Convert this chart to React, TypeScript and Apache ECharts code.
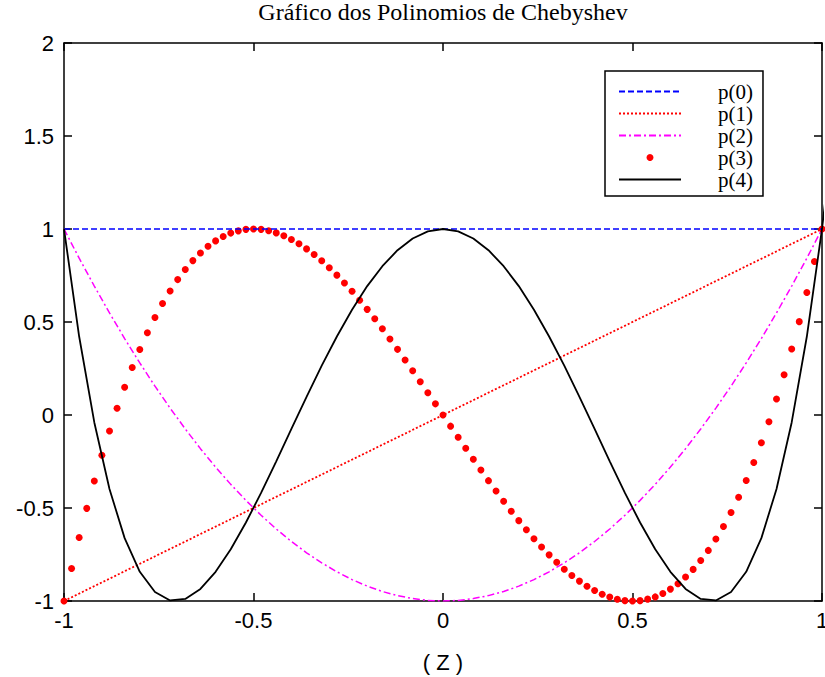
import React, { useEffect, useRef } from "react";
import * as echarts from "echarts";

const TITLE = "Gráfico dos Polinomios de Chebyshev";
const X_NAME = "( Z )";
const SERIES_NAMES = ["p(0)", "p(1)", "p(2)", "p(3)", "p(4)"];
const X_TICKS = [-1, -0.5, 0, 0.5, 1];
const Y_TICKS = [-1, -0.5, 0, 0.5, 1, 1.5, 2];

// p(0) and p(1) are straight lines
const zLine = [-1, 1];
const p0 = [1, 1];
const p1 = [-1, 1];

// fine grid (dotted p(3))
const zFine = [
  -1, -0.98, -0.96, -0.94, -0.92, -0.9, -0.88, -0.86, -0.84, -0.82,
  -0.8, -0.78, -0.76, -0.74, -0.72, -0.7, -0.68, -0.66, -0.64, -0.62,
  -0.6, -0.58, -0.56, -0.54, -0.52, -0.5, -0.48, -0.46, -0.44, -0.42,
  -0.4, -0.38, -0.36, -0.34, -0.32, -0.3, -0.28, -0.26, -0.24, -0.22,
  -0.2, -0.18, -0.16, -0.14, -0.12, -0.1, -0.08, -0.06, -0.04, -0.02,
  0,
  0.02, 0.04, 0.06, 0.08, 0.1, 0.12, 0.14, 0.16, 0.18, 0.2,
  0.22, 0.24, 0.26, 0.28, 0.3, 0.32, 0.34, 0.36, 0.38, 0.4,
  0.42, 0.44, 0.46, 0.48, 0.5, 0.52, 0.54, 0.56, 0.58, 0.6,
  0.62, 0.64, 0.66, 0.68, 0.7, 0.72, 0.74, 0.76, 0.78, 0.8,
  0.82, 0.84, 0.86, 0.88, 0.9, 0.92, 0.94, 0.96, 0.98, 1,
];
const p3 = [
  -1, -0.825, -0.659, -0.502, -0.355, -0.216, -0.086, 0.036, 0.149, 0.255,
  0.352, 0.442, 0.524, 0.599, 0.667, 0.728, 0.782, 0.83, 0.871, 0.907,
  0.936, 0.96, 0.978, 0.99, 0.998, 1, 0.998, 0.991, 0.979, 0.964,
  0.944, 0.921, 0.893, 0.863, 0.829, 0.792, 0.752, 0.71, 0.665, 0.617,
  0.568, 0.517, 0.464, 0.409, 0.353, 0.296, 0.238, 0.179, 0.12, 0.06,
  0,
  -0.06, -0.12, -0.179, -0.238, -0.296, -0.353, -0.409, -0.464, -0.517, -0.568,
  -0.617, -0.665, -0.71, -0.752, -0.792, -0.829, -0.863, -0.893, -0.921, -0.944,
  -0.964, -0.979, -0.991, -0.998, -1, -0.998, -0.99, -0.978, -0.96, -0.936,
  -0.907, -0.871, -0.83, -0.782, -0.728, -0.667, -0.599, -0.524, -0.442, -0.352,
  -0.255, -0.149, -0.036, 0.086, 0.216, 0.355, 0.502, 0.659, 0.825, 1,
];

// coarse grid (p(2), p(4))
const zCoarse = [
  -1, -0.96, -0.92, -0.88, -0.84, -0.8, -0.76, -0.72, -0.68, -0.64,
  -0.6, -0.56, -0.52, -0.48, -0.44, -0.4, -0.36, -0.32, -0.28, -0.24,
  -0.2, -0.16, -0.12, -0.08, -0.04, 0, 0.04, 0.08, 0.12, 0.16,
  0.2, 0.24, 0.28, 0.32, 0.36, 0.4, 0.44, 0.48, 0.52, 0.56,
  0.6, 0.64, 0.68, 0.72, 0.76, 0.8, 0.84, 0.88, 0.92, 0.96, 1,
];
const p2 = [
  1, 0.843, 0.693, 0.549, 0.411, 0.28, 0.155, 0.037, -0.075, -0.181,
  -0.28, -0.373, -0.459, -0.539, -0.613, -0.68, -0.741, -0.795, -0.843, -0.885,
  -0.92, -0.949, -0.971, -0.987, -0.997, -1, -0.997, -0.987, -0.971, -0.949,
  -0.92, -0.885, -0.843, -0.795, -0.741, -0.68, -0.613, -0.539, -0.459, -0.373,
  -0.28, -0.181, -0.075, 0.037, 0.155, 0.28, 0.411, 0.549, 0.693, 0.843, 1,
];
const p4 = [
  1, 0.422, -0.04, -0.398, -0.662, -0.843, -0.952, -0.997, -0.989, -0.935,
  -0.843, -0.722, -0.578, -0.419, -0.249, -0.075, 0.098, 0.265, 0.422, 0.566,
  0.693, 0.8, 0.886, 0.949, 0.987, 1, 0.987, 0.949, 0.886, 0.8,
  0.693, 0.566, 0.422, 0.265, 0.098, -0.075, -0.249, -0.419, -0.578, -0.722,
  -0.843, -0.935, -0.989, -0.997, -0.952, -0.843, -0.662, -0.398, -0.04, 0.422, 1,
];
// p(4) continues just past the right edge
const p4EdgeZ = [1.04];
const p4Edge = [1.71];

const zip = (xs: number[], ys: number[]) => xs.map((x, i) => [x, ys[i]]);

export default function App() {
  const ref = useRef<HTMLDivElement>(null);
  useEffect(() => {
    if (!ref.current) return;
    const chart = echarts.init(ref.current, undefined, { renderer: "svg" });
    const xMin = X_TICKS[0];
    const xMax = X_TICKS[X_TICKS.length - 1];
    const xInt = X_TICKS[1] - X_TICKS[0];
    const yMin = Y_TICKS[0];
    const yMax = Y_TICKS[Y_TICKS.length - 1];
    const yInt = Y_TICKS[1] - Y_TICKS[0];
    const axisLine = { show: true, onZero: false, lineStyle: { color: "#000", width: 1.5 } };
    const axisTick = { show: true, inside: true, length: 8, lineStyle: { color: "#000", width: 1.5 } };
    const labelStyle = { color: "#000", fontFamily: "Liberation Sans", fontSize: 22 };
    const option: any = {
      animation: false,
      backgroundColor: "#fff",
      title: {
        text: TITLE,
        left: 443,
        top: 0,
        padding: 0,
        textAlign: "center",
        textStyle: { fontFamily: "Liberation Serif", fontSize: 24, fontWeight: "normal", color: "#000" },
      },
      grid: { left: 64, right: 3, top: 43, bottom: 76, containLabel: false, outerBoundsMode: "none" },
      legend: {
        orient: "vertical",
        left: 605,
        top: 71,
        padding: [10, 10, 6, 13],
        itemWidth: 62,
        itemHeight: 7,
        itemGap: 1,
        selectedMode: false,
        backgroundColor: "#fff",
        borderColor: "#000",
        borderWidth: 1.5,
        textStyle: {
          fontFamily: "Liberation Serif",
          fontSize: 21,
          lineHeight: 21,
          color: "#000",
          padding: [0, 0, 0, 32],
        },
        data: SERIES_NAMES.map((n, i) => ({
          name: n,
          itemStyle: i === 3 ? { opacity: 1 } : { opacity: 0 },
        })),
      },
      xAxis: [
        {
          type: "value",
          position: "bottom",
          min: xMin,
          max: xMax,
          interval: xInt,
          axisLine,
          axisTick,
          splitLine: { show: false },
          axisLabel: { ...labelStyle, margin: 8 },
          name: X_NAME,
          nameLocation: "middle",
          nameGap: 50,
          nameTextStyle: { ...labelStyle },
        },
        {
          type: "value",
          position: "top",
          min: xMin,
          max: xMax,
          interval: xInt,
          axisLine,
          axisTick,
          splitLine: { show: false },
          axisLabel: { show: false },
        },
      ],
      yAxis: [
        {
          type: "value",
          position: "left",
          min: yMin,
          max: yMax,
          interval: yInt,
          axisLine,
          axisTick,
          splitLine: { show: false },
          axisLabel: { ...labelStyle, margin: 10 },
        },
        {
          type: "value",
          position: "right",
          min: yMin,
          max: yMax,
          interval: yInt,
          axisLine,
          axisTick,
          splitLine: { show: false },
          axisLabel: { show: false },
        },
      ],
      series: [
        {
          name: SERIES_NAMES[0],
          type: "line",
          data: zip(zLine, p0),
          symbol: "none",
          lineStyle: { color: "#0000ff", width: 1.5, type: [6, 3] },
          itemStyle: { color: "#0000ff" },
        },
        {
          name: SERIES_NAMES[1],
          type: "line",
          data: zip(zLine, p1),
          symbol: "none",
          lineStyle: { color: "#ff0000", width: 1.8, type: [2, 2] },
          itemStyle: { color: "#ff0000" },
        },
        {
          name: SERIES_NAMES[2],
          type: "line",
          data: zip(zCoarse, p2),
          symbol: "none",
          lineStyle: { color: "#ff00ff", width: 1.5, type: [7, 3, 2, 3] },
          itemStyle: { color: "#ff00ff" },
        },
        {
          name: SERIES_NAMES[3],
          type: "scatter",
          data: zip(zFine, p3),
          symbol: "circle",
          symbolSize: 7,
          itemStyle: { color: "#ff0000", opacity: 1 },
        },
        {
          name: SERIES_NAMES[4],
          type: "line",
          data: [...zip(zCoarse, p4), ...zip(p4EdgeZ, p4Edge)],
          symbol: "none",
          clip: false,
          lineStyle: { color: "#000", width: 1.8, type: "solid" },
          itemStyle: { color: "#000" },
        },
      ],
    };
    chart.setOption(option);
    return () => chart.dispose();
  }, []);
  return (
    <div
      ref={ref}
      style={{ position: "fixed", left: 0, top: 0, width: 825, height: 677, background: "#fff" }}
    />
  );
}
